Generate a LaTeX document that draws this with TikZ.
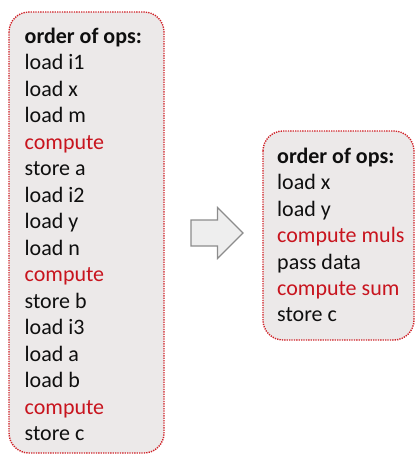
\documentclass[tikz,border=0pt]{standalone}
\usepackage{fontspec}
\setmainfont{Carlito}
\definecolor{boxfill}{RGB}{236,233,233}
\definecolor{boxline}{RGB}{208,32,38}
\definecolor{opred}{RGB}{200,20,30}
\definecolor{opblack}{RGB}{15,15,15}
\definecolor{arrowfill}{RGB}{238,238,238}
\definecolor{arrowline}{RGB}{140,140,140}
\tikzset{
  opsbox/.style={draw=boxline, fill=boxfill, line width=1.4pt,
    dash pattern=on 1.3pt off 1.1pt, rounded corners=20pt},
  opline/.style={anchor=base west, inner sep=0pt, text=opblack,
    font=\fontsize{22}{26}\selectfont},
  ophead/.style={opline, font=\fontsize{22}{26}\selectfont\bfseries},
  opcalc/.style={opline, text=opred},
  blockarrow/.style={draw=arrowline, fill=arrowfill, line width=1.2pt, line join=miter}
}
\begin{document}
\begin{tikzpicture}[x=1pt, y=-1pt]
  \useasboundingbox (0,0) rectangle (416,456);
  % boxes
  \draw[opsbox] (9,12) rectangle (164,453);
  \draw[opsbox] (263,131) rectangle (414,340);
  % left list
  \node[ophead] (l0) at (24.5,43.3) {order of ops:};
  \foreach \t/\s [count=\i] in {load i1/opline, load x/opline, load m/opline,
      compute/opcalc, store a/opline, load i2/opline, load y/opline,
      load n/opline, compute/opcalc, store b/opline, load i3/opline,
      load a/opline, load b/opline, compute/opcalc, store c/opline}
    \node[\s] (l\i) at (24.5,43.3+26.5*\i) {\t};
  % right list
  \node[ophead] (r0) at (277,163.5) {order of ops:};
  \foreach \t/\s [count=\i] in {load x/opline, load y/opline,
      compute muls/opcalc, pass data/opline, compute sum/opcalc, store c/opline}
    \node[\s] (r\i) at (277,163.5+26.4*\i) {\t};
  % transformation arrow
  \draw[blockarrow] (191,220) -- (217.5,220) -- (217.5,207.5) -- (243,233)
    -- (217.5,258.5) -- (217.5,246) -- (191,246) -- cycle;
\end{tikzpicture}
\end{document}
